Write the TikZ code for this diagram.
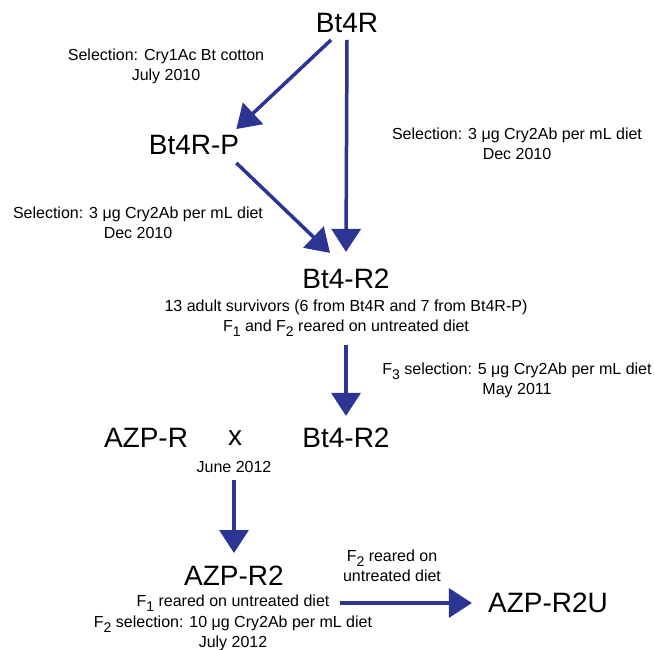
\documentclass[tikz,border=0pt]{standalone}
\usepackage{fontspec}
\setmainfont{Liberation Sans}
\usepackage{tikz}
\usetikzlibrary{arrows.meta}
\definecolor{arrblue}{RGB}{44,52,148}
\newcommand{\lowidx}[1]{\raisebox{-5pt}{\fontsize{14}{14}\selectfont #1}}

\begin{document}
\begin{tikzpicture}[x=1pt,y=-1pt,
  strain/.style={font=\fontsize{28}{30}\selectfont,inner sep=0pt},
  note/.style={font=\fontsize{16}{20}\selectfont,align=center,inner sep=0pt},
  arr/.style={draw=arrblue,line width=3.5pt,-{Triangle[length=23pt,width=29pt]}}]
\useasboundingbox (0,0) rectangle (654,650);
\node[strain] (bt4r) at (347,23) {Bt4R};
\node[note] (sel1) at (166,66) {Selection: Cry1Ac Bt cotton\\July 2010};
\node[strain] (bt4rp) at (194,145) {Bt4R-P};
\node[note] (selR) at (517,144) {Selection: 3 μg Cry2Ab per mL diet\\Dec 2010};
\node[note] (selL) at (138,223) {Selection: 3 μg Cry2Ab per mL diet\\Dec 2010};
\node[strain] (bt4r2) at (346,279) {Bt4-R2};
\node[note] (info) at (346,318) {13 adult survivors (6 from Bt4R and 7 from Bt4R-P)\\F\lowidx{1} and F\lowidx{2} reared on untreated diet};
\node[note] (selF3) at (517,380) {F\lowidx{3} selection: 5 μg Cry2Ab per mL diet\\May 2011};
\node[strain] (azpr) at (146,438) {AZP-R};
\node[strain] (cross) at (235,438) {x};
\node[strain] (bt4r2b) at (346,438) {Bt4-R2};
\node[note] (june) at (234,467) {June 2012};
\node[strain] (azpr2) at (234,576) {AZP-R2};
\node[note] (f2lab) at (392,566) {F\lowidx{2} reared on\\untreated diet};
\node[note] (f1line) at (233,603) {F\lowidx{1} reared on untreated diet};
\node[note] (f2sel) at (233,633) {F\lowidx{2} selection: 10 μg Cry2Ab per mL diet\\July 2012};
\node[strain] (azpr2u) at (548,603) {AZP-R2U};
\draw[arr] ([shift={(-16,7)}]bt4r.south) -- ([shift={(-3,-6)}]bt4rp.north east);
\draw[arr] ([shift={(0,7)}]bt4r.south) -- ([shift={(0,-17)}]bt4r2.north);
\draw[arr] ([shift={(-3,8)}]bt4rp.south east) -- ([shift={(-16,-16)}]bt4r2.north);
\draw[arr] ([shift={(0,9)}]info.south) -- ([shift={(0,-12)}]bt4r2b.north);
\draw[arr] ([shift={(0,7)}]june.south) -- ([shift={(0,-13)}]azpr2.north);
\draw[arr] ([shift={(10,0)}]f1line.east) -- ([shift={(-16,0)}]azpr2u.west);
\end{tikzpicture}
\end{document}
